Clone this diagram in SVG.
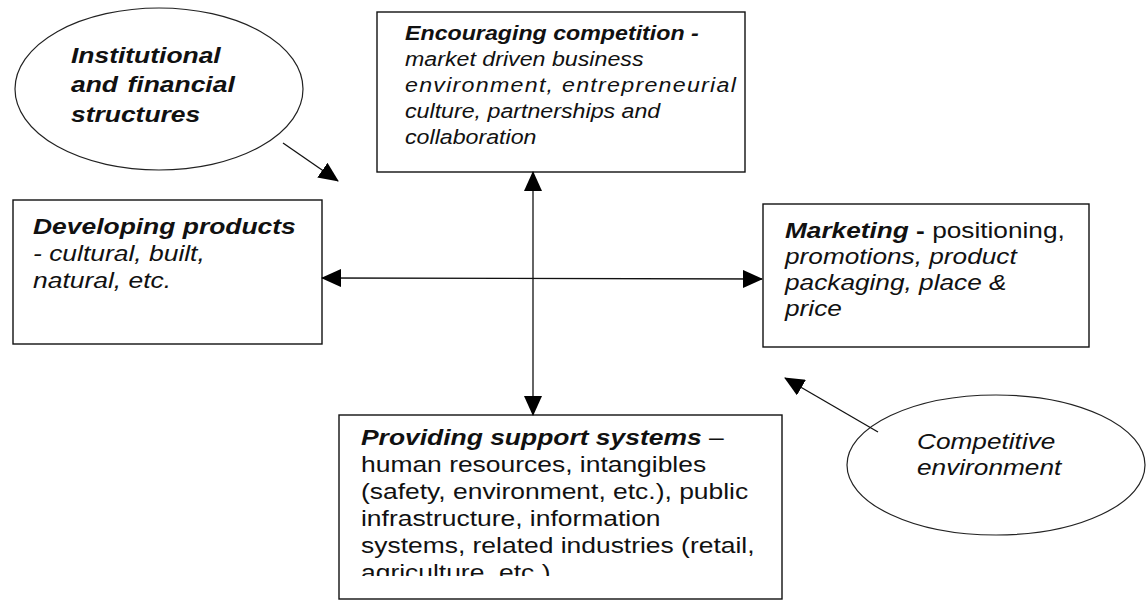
<svg xmlns="http://www.w3.org/2000/svg" width="1147" height="604" viewBox="0 0 1147 604">
  <style>
    text { font-family: "Liberation Sans", Arial, sans-serif; fill: #111; }
    .t { font-size: 21.5px; }
    .ts { font-size: 19.5px; }
    .b { font-weight: bold; }
    .i { font-style: italic; }
    .box { fill: #fff; stroke: #111; stroke-width: 1.4; }
    .oval { fill: #fff; stroke: #222; stroke-width: 1.2; }
    .link { stroke: #111; stroke-width: 1.3; fill: none; }
  </style>
  <defs>
    <marker id="head" markerUnits="userSpaceOnUse" markerWidth="20" markerHeight="18" refX="19" refY="9" orient="auto-start-reverse" viewBox="0 0 20 18">
      <path d="M0,0 L20,9 L0,18 Z" fill="#000"/>
    </marker>
    <clipPath id="supportClip">
      <rect x="339" y="415" width="443" height="161"/>
    </clipPath>
  </defs>

  <rect width="1147" height="604" fill="#fff"/>

  <!-- Institutional and financial structures -->
  <g id="institutional">
    <ellipse class="oval" cx="159" cy="89" rx="144" ry="81"/>
    <text class="t b i" transform="translate(71,63) scale(1.23,1)">
      <tspan x="0" y="0">Institutional</tspan>
      <tspan x="0" y="29.5">and</tspan><tspan x="46" y="29.5">financial</tspan>
      <tspan x="0" y="59">structures</tspan>
    </text>
  </g>

  <!-- Encouraging competition -->
  <g id="competition">
    <rect class="box" x="377" y="12" width="368" height="160"/>
    <text class="ts i" transform="translate(405,40) scale(1.19,1)">
      <tspan x="0" y="0" class="b">Encouraging competition -</tspan>
      <tspan x="0" y="26">market driven business</tspan>
      <tspan x="0" y="52" textLength="278" lengthAdjust="spacing">environment, entrepreneurial</tspan>
      <tspan x="0" y="78">culture, partnerships and</tspan>
      <tspan x="0" y="104">collaboration</tspan>
    </text>
  </g>

  <!-- Developing products -->
  <g id="products">
    <rect class="box" x="13" y="200" width="309" height="144"/>
    <text class="t i" transform="translate(33,234) scale(1.23,1)">
      <tspan x="0" y="0" class="b">Developing products</tspan>
      <tspan x="0" y="27">- cultural, built,</tspan>
      <tspan x="0" y="54">natural, etc.</tspan>
    </text>
  </g>

  <!-- Marketing -->
  <g id="marketing">
    <rect class="box" x="763" y="204" width="326" height="143"/>
    <text class="t" transform="translate(785,238) scale(1.22,1)">
      <tspan x="0" y="0"><tspan class="b i">Marketing</tspan><tspan class="b"> -</tspan> positioning,</tspan>
      <tspan x="0" y="26" class="i">promotions, product</tspan>
      <tspan x="0" y="52" class="i">packaging, place &amp;</tspan>
      <tspan x="0" y="78" class="i">price</tspan>
    </text>
  </g>

  <!-- Providing support systems -->
  <g id="support">
    <rect class="box" x="339" y="415" width="443" height="184"/>
    <g clip-path="url(#supportClip)">
      <text class="t" transform="translate(361,445) scale(1.23,1)">
        <tspan x="0" y="0"><tspan class="b i">Providing support systems</tspan> –</tspan>
        <tspan x="0" y="27">human resources, intangibles</tspan>
        <tspan x="0" y="54">(safety, environment, etc.), public</tspan>
        <tspan x="0" y="81">infrastructure, information</tspan>
        <tspan x="0" y="108">systems, related industries (retail,</tspan>
        <tspan x="0" y="135">agriculture, etc.)</tspan>
      </text>
    </g>
  </g>

  <!-- Competitive environment -->
  <g id="environment">
    <ellipse class="oval" cx="996" cy="465" rx="149" ry="70"/>
    <text class="t i" transform="translate(917,449) scale(1.22,1)">
      <tspan x="0" y="0">Competitive</tspan>
      <tspan x="0" y="26">environment</tspan>
    </text>
  </g>

  <!-- Connectors -->
  <g id="connectors">
    <line class="link" x1="533" y1="172" x2="533" y2="415" stroke-width="2" marker-start="url(#head)" marker-end="url(#head)"/>
    <line class="link" x1="322" y1="278" x2="762" y2="279" stroke="#555" stroke-width="1.2" marker-start="url(#head)" marker-end="url(#head)"/>
    <line class="link" x1="283" y1="143" x2="338" y2="181" marker-end="url(#head)"/>
    <line class="link" x1="878" y1="432" x2="785" y2="378" marker-end="url(#head)"/>
  </g>
</svg>
